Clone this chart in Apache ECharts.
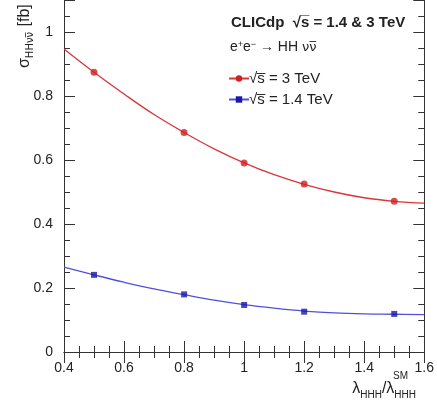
<!DOCTYPE html>
<html>
<head>
<meta charset="utf-8">
<script src="https://cdn.jsdelivr.net/npm/echarts@6/dist/echarts.min.js"></script>
<style>
  html, body { margin: 0; padding: 0; background: #fff; }
  #chart { width: 437px; height: 414px; }
</style>
</head>
<body>
<div id="chart"></div>
<script>
// Cross-section of double Higgs production vs. trilinear coupling ratio
const xTicks = [0.4, 0.6, 0.8, 1.0, 1.2, 1.4, 1.6];
const yTicks = [0, 0.2, 0.4, 0.6, 0.8, 1.0];

// simulated points
const lambdaPoints = [0.5, 0.8, 1.0, 1.2, 1.5];
const sigma3TeV = [0.874, 0.686, 0.591, 0.525, 0.471];
const sigma1p4TeV = [0.241, 0.180, 0.147, 0.126, 0.119];

// fitted curves, sampled along the axis
const fitLambda = [0.4, 0.5, 0.6, 0.7, 0.8, 0.9, 1.0, 1.1, 1.2, 1.3, 1.4, 1.5, 1.6];
const fit3TeV = [0.947, 0.874, 0.806, 0.742, 0.686, 0.635, 0.591, 0.554, 0.524, 0.500, 0.482, 0.471, 0.465];
const fit1p4TeV = [0.265, 0.241, 0.218, 0.197, 0.179, 0.162, 0.148, 0.137, 0.128, 0.122, 0.119, 0.118, 0.117];

const seriesNames = ['\u221As\u0305 = 3 TeV', '\u221As\u0305 = 1.4 TeV'];
const FONT = '"Liberation Sans", Arial, Helvetica, sans-serif';
const MARKFONT = '"DejaVu Sans", sans-serif';
const RED = '#d8363a', RED_PT = '#d01f1f';
const BLUE = '#5050dc', BLUE_PT = '#1818a8';
const AX = '#333';

const pairs = (xs, ys) => xs.map((x, i) => [x, ys[i]]);

const tickCommon = {
  axisLine: { show: true, lineStyle: { color: AX, width: 1 } },
  axisTick: { show: true, inside: true, length: 11, lineStyle: { color: AX } },
  minorTick: { show: true, splitNumber: 4, length: 6, lineStyle: { color: AX } },
  splitLine: { show: false },
  minorSplitLine: { show: false }
};

const chart = echarts.init(document.getElementById('chart'), null, { renderer: 'canvas' });

chart.setOption({
  animation: false,
  backgroundColor: '#fff',
  grid: { left: 64, right: 8, top: 0, bottom: 62, containLabel: false },
  xAxis: [
    Object.assign({
      type: 'value', position: 'bottom',
      min: xTicks[0], max: xTicks[xTicks.length - 1], interval: 0.2,
      axisLabel: { color: '#222', fontSize: 14, fontFamily: FONT, margin: 9,
                   formatter: v => String(+v.toFixed(1)) }
    }, tickCommon),
    Object.assign({
      type: 'value', position: 'top',
      min: xTicks[0], max: xTicks[xTicks.length - 1], interval: 0.2,
      axisLabel: { show: false }
    }, tickCommon)
  ],
  yAxis: [
    Object.assign({
      type: 'value', position: 'left',
      min: yTicks[0], max: 1.1, interval: 0.2,
      axisLabel: { color: '#222', fontSize: 14, fontFamily: FONT, margin: 11,
                   showMaxLabel: false,
                   formatter: v => String(+v.toFixed(1)) }
    }, tickCommon),
    Object.assign({
      type: 'value', position: 'right',
      min: yTicks[0], max: 1.1, interval: 0.2,
      axisLabel: { show: false }
    }, tickCommon)
  ],
  legend: {
    orient: 'vertical',
    left: 223, top: 66,
    itemWidth: 20, itemHeight: 8, itemGap: 6,
    data: seriesNames,
    textStyle: { color: '#222', fontSize: 15, fontFamily: FONT, padding: [0, 0, 0, -5] }
  },
  series: [
    {
      name: seriesNames[0], type: 'line', smooth: 0.4,
      data: pairs(fitLambda, fit3TeV),
      showSymbol: false, symbol: 'circle', symbolSize: 7,
      itemStyle: { color: RED_PT },
      lineStyle: { color: RED, width: 1.3 },
      z: 2
    },
    {
      name: seriesNames[1], type: 'line', smooth: 0.4,
      data: pairs(fitLambda, fit1p4TeV),
      showSymbol: false, symbol: 'rect', symbolSize: 6,
      itemStyle: { color: BLUE_PT },
      lineStyle: { color: BLUE, width: 1.3 },
      z: 2
    },
    {
      name: seriesNames[0], type: 'scatter',
      data: pairs(lambdaPoints, sigma3TeV),
      symbol: 'circle', symbolSize: 7,
      itemStyle: { color: RED_PT },
      z: 3
    },
    {
      name: seriesNames[1], type: 'scatter',
      data: pairs(lambdaPoints, sigma1p4TeV),
      symbol: 'rect', symbolSize: 6,
      itemStyle: { color: BLUE_PT },
      z: 3
    }
  ],
  graphic: [
    {
      type: 'text', left: 231, top: 15,
      style: {
        text: 'CLICdp  \u221As\u0305 = 1.4 & 3 TeV',
        font: 'bold 15px ' + FONT, fill: '#222'
      }
    },
    {
      type: 'text', left: 230, top: 40,
      style: {
        text: '{m|e}{u|+}{m|e}{u|\u2212}{m| \u2192 HH }{g|\u03BD\u03BD\u0305}',
        rich: {
          m: { fontSize: 14, fontFamily: FONT, fill: '#222', verticalAlign: 'bottom' },
          u: { fontSize: 9, fontFamily: FONT, fill: '#222', verticalAlign: 'top' },
          g: { fontSize: 13, fontFamily: MARKFONT, fill: '#222', verticalAlign: 'bottom' }
        }
      }
    },
    {
      // y-axis title, reading bottom to top
      type: 'text', x: 26, y: 68, rotation: Math.PI / 2,
      style: {
        text: '{m|\u03C3}{s|HH\u03BD\u03BD\u0305}{m| [fb]}',
        align: 'left', verticalAlign: 'middle',
        rich: {
          m: { fontSize: 16, fontFamily: FONT, fill: '#222', verticalAlign: 'top', lineHeight: 19 },
          s: { fontSize: 10, fontFamily: MARKFONT, fill: '#222', verticalAlign: 'bottom', lineHeight: 19, padding: [0, 1, 0, 0] }
        }
      }
    },
    {
      // x-axis title
      type: 'text', right: 21, top: 381,
      style: {
        text: '{m|\u03BB}{s|HHH}{m|/\u03BB}{s|HHH}',
        rich: {
          m: { fontSize: 16, fontFamily: FONT, fill: '#222', verticalAlign: 'top', lineHeight: 19 },
          s: { fontSize: 10, fontFamily: FONT, fill: '#222', verticalAlign: 'bottom', lineHeight: 19 }
        }
      }
    },
    {
      type: 'text', left: 393, top: 371,
      style: { text: 'SM', font: '10px ' + FONT, fill: '#222' }
    }
  ]
});
</script>
</body>
</html>
